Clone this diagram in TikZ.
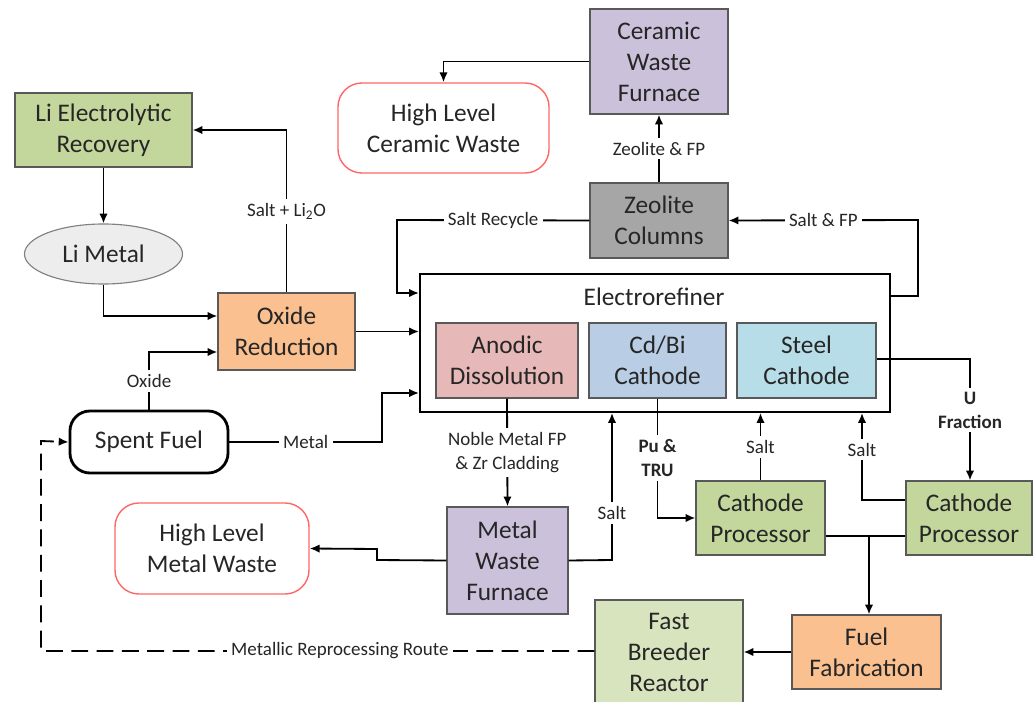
\documentclass[tikz,border=0pt]{standalone}
\usepackage{fontspec}
\setmainfont{Carlito}
\usetikzlibrary{arrows.meta, calc, positioning, shapes.geometric}
\definecolor{procgreen}{RGB}{195,214,155}
\definecolor{palegreen}{RGB}{215,228,189}
\definecolor{procorange}{RGB}{250,192,144}
\definecolor{furnlilac}{RGB}{204,193,218}
\definecolor{zeogray}{RGB}{166,166,166}
\definecolor{anodered}{RGB}{230,185,184}
\definecolor{cdblue}{RGB}{185,205,229}
\definecolor{steelblue}{RGB}{183,222,232}
\definecolor{wastered}{RGB}{255,102,102}
\definecolor{limetalgray}{RGB}{237,237,237}

\begin{document}
\begin{tikzpicture}[x=0.025cm, y=-0.025cm, >={Latex[length=7pt,width=6pt]},
    box/.style={draw=black!65, line width=0.8pt, align=center, text=black!85, inner sep=0pt, font=\fontsize{18}{22}\selectfont},
    waste/.style={box, draw=wastered, line width=1pt, fill=white, rounded corners=0.6cm},
    flow/.style={line width=1.3pt, ->},
    link/.style={line width=1.3pt},
    lbl/.style={fill=white, align=center, text=black!85, inner sep=3pt, font=\fontsize{13.5}{17}\selectfont},
    lblb/.style={lbl, font=\fontsize{13.5}{17}\selectfont\bfseries}]
    \useasboundingbox (0,0) rectangle (1033,702);

    % Lithium loop
    \node[box, fill=procgreen, minimum width=4.425cm, minimum height=1.85cm] (lirec) at (103.5,130) {Li Electrolytic\\Recovery};
    \node[box, ellipse, draw=black!50, fill=limetalgray, minimum width=3.95cm, minimum height=1.5cm] (limetal) at (103.5,254) {Li Metal};
    \node[box, fill=procorange, minimum width=3.425cm, minimum height=1.925cm] (oxred) at (286.5,331.5) {Oxide\\Reduction};

    % Ceramic waste branch
    \node[waste, minimum width=5.275cm, minimum height=2.25cm] (hlcw) at (443.5,128) {High Level\\Ceramic Waste};
    \node[box, fill=furnlilac, minimum width=3.45cm, minimum height=2.625cm] (cwf) at (659,61.5) {Ceramic\\Waste\\Furnace};
    \node[box, fill=zeogray, minimum width=3.45cm, minimum height=1.875cm] (zeo) at (659,220.5) {Zeolite\\Columns};

    % Electrorefiner and its electrodes
    \node[box, draw=black, line width=1.3pt, fill=white, minimum width=11.75cm, minimum height=3.45cm] (er) at (655,343) {};
    \node[box, draw=none] (erlbl) at (654,297) {Electrorefiner};
    \node[box, fill=anodered, minimum width=3.55cm, minimum height=1.875cm] (anodic) at (507,360.5) {Anodic\\Dissolution};
    \node[box, fill=cdblue, minimum width=3.425cm, minimum height=1.875cm] (cdbi) at (657.5,360.5) {Cd/Bi\\Cathode};
    \node[box, fill=steelblue, minimum width=3.475cm, minimum height=1.875cm] (steel) at (806.5,360.5) {Steel\\Cathode};

    % Feed and metal waste
    \node[box, draw=black, line width=2pt, fill=white, rounded corners=0.5cm, minimum width=3.95cm, minimum height=1.55cm] (sf) at (149,442) {Spent Fuel};
    \node[box, fill=furnlilac, minimum width=3.025cm, minimum height=2.675cm] (mwf) at (507.5,560.5) {Metal\\Waste\\Furnace};
    \node[waste, minimum width=4.85cm, minimum height=2.275cm] (hlmw) at (212,548.5) {High Level\\Metal Waste};

    % Cathode processing and fuel
    \node[box, fill=procgreen, minimum width=3.225cm, minimum height=1.85cm] (cp1) at (760.5,518) {Cathode\\Processor};
    \node[box, fill=procgreen, minimum width=3.15cm, minimum height=1.85cm] (cp2) at (969,518) {Cathode\\Processor};
    \node[box, fill=procorange, minimum width=3.725cm, minimum height=1.85cm] (ff) at (866.5,652) {Fuel\\Fabrication};
    \node[box, fill=palegreen, minimum width=3.7cm, minimum height=2.625cm] (fbr) at (669,652.5) {Fast\\Breeder\\Reactor};

    % Lithium loop flows
    \draw[flow] (lirec.south) -- (limetal.north);
    \draw[flow] (limetal.south) |- (oxred.west |- 0,316);
    \draw[flow] (oxred.north) -- node[lbl]{Salt + Li\textsubscript{2}O} (oxred.north |- lirec.east) -- (lirec.east);

    % Zeolite and ceramic flows
    \draw[flow] (cwf.west) -| (hlcw.north);
    \draw[flow] (zeo.north) -- node[lbl]{Zeolite \& FP} (cwf.south);
    \draw[flow] (zeo.west) -- node[lbl]{Salt Recycle} (397,220) |- (er.west |- 0,293);
    \draw[flow] (er.east |- 0,296) -- (918,296) -- (918,220) -- node[lbl]{Salt \& FP} (zeo.east);

    % Feeds into the electrorefiner
    \draw[flow] (oxred.east) -- (er.west |- oxred.east);
    \draw[flow] (sf.north) -- node[lbl]{Oxide} (sf.north |- 0,352) -- (oxred.west |- 0,352);
    \draw[flow] (sf.east) -- node[lbl]{Metal} (382,442) |- (er.west |- 0,393);

    % Anode products
    \draw[flow] (anodic.south) -- node[lbl]{Noble Metal FP\\\& Zr Cladding} (mwf.north);
    \draw[flow] (mwf.east) -- (612,560) -- node[lbl, pos=0.32]{Salt} (er.south -| 612,0);
    \draw[flow] (mwf.west) -- (377,560) -- (377,549) -- (hlmw.east);

    % Cathode products
    \draw[flow] (cdbi.south) -- node[lblb]{Pu \&\\TRU} (cdbi.south |- cp1.west) -- (cp1.west);
    \draw[flow] (cp1.north) -- node[lbl]{Salt} (er.south -| cp1.north);
    \draw[flow] (cp2.west |- 0,500) -- (862,500) -- node[lbl, pos=0.58]{Salt} (er.south -| 862,0);
    \draw[flow] (steel.east |- 0,359) -- (970,359) -- node[lblb, pos=0.42]{U\\Fraction} (cp2.north -| 970,0);

    % Fuel cycle
    \draw[link] (cp1.east |- 0,536) -- (cp2.west |- 0,536);
    \draw[flow] (869,536) -- (ff.north -| 869,0);
    \draw[flow] (ff.west) -- (ff.west -| fbr.east);
    \draw[flow, dashed, dash pattern=on 12pt off 6pt] (fbr.west |- 0,651) -- node[lbl, pos=0.46]{Metallic Reprocessing Route} (41,651) -- (41,441) -- (sf.west);
\end{tikzpicture}
\end{document}
